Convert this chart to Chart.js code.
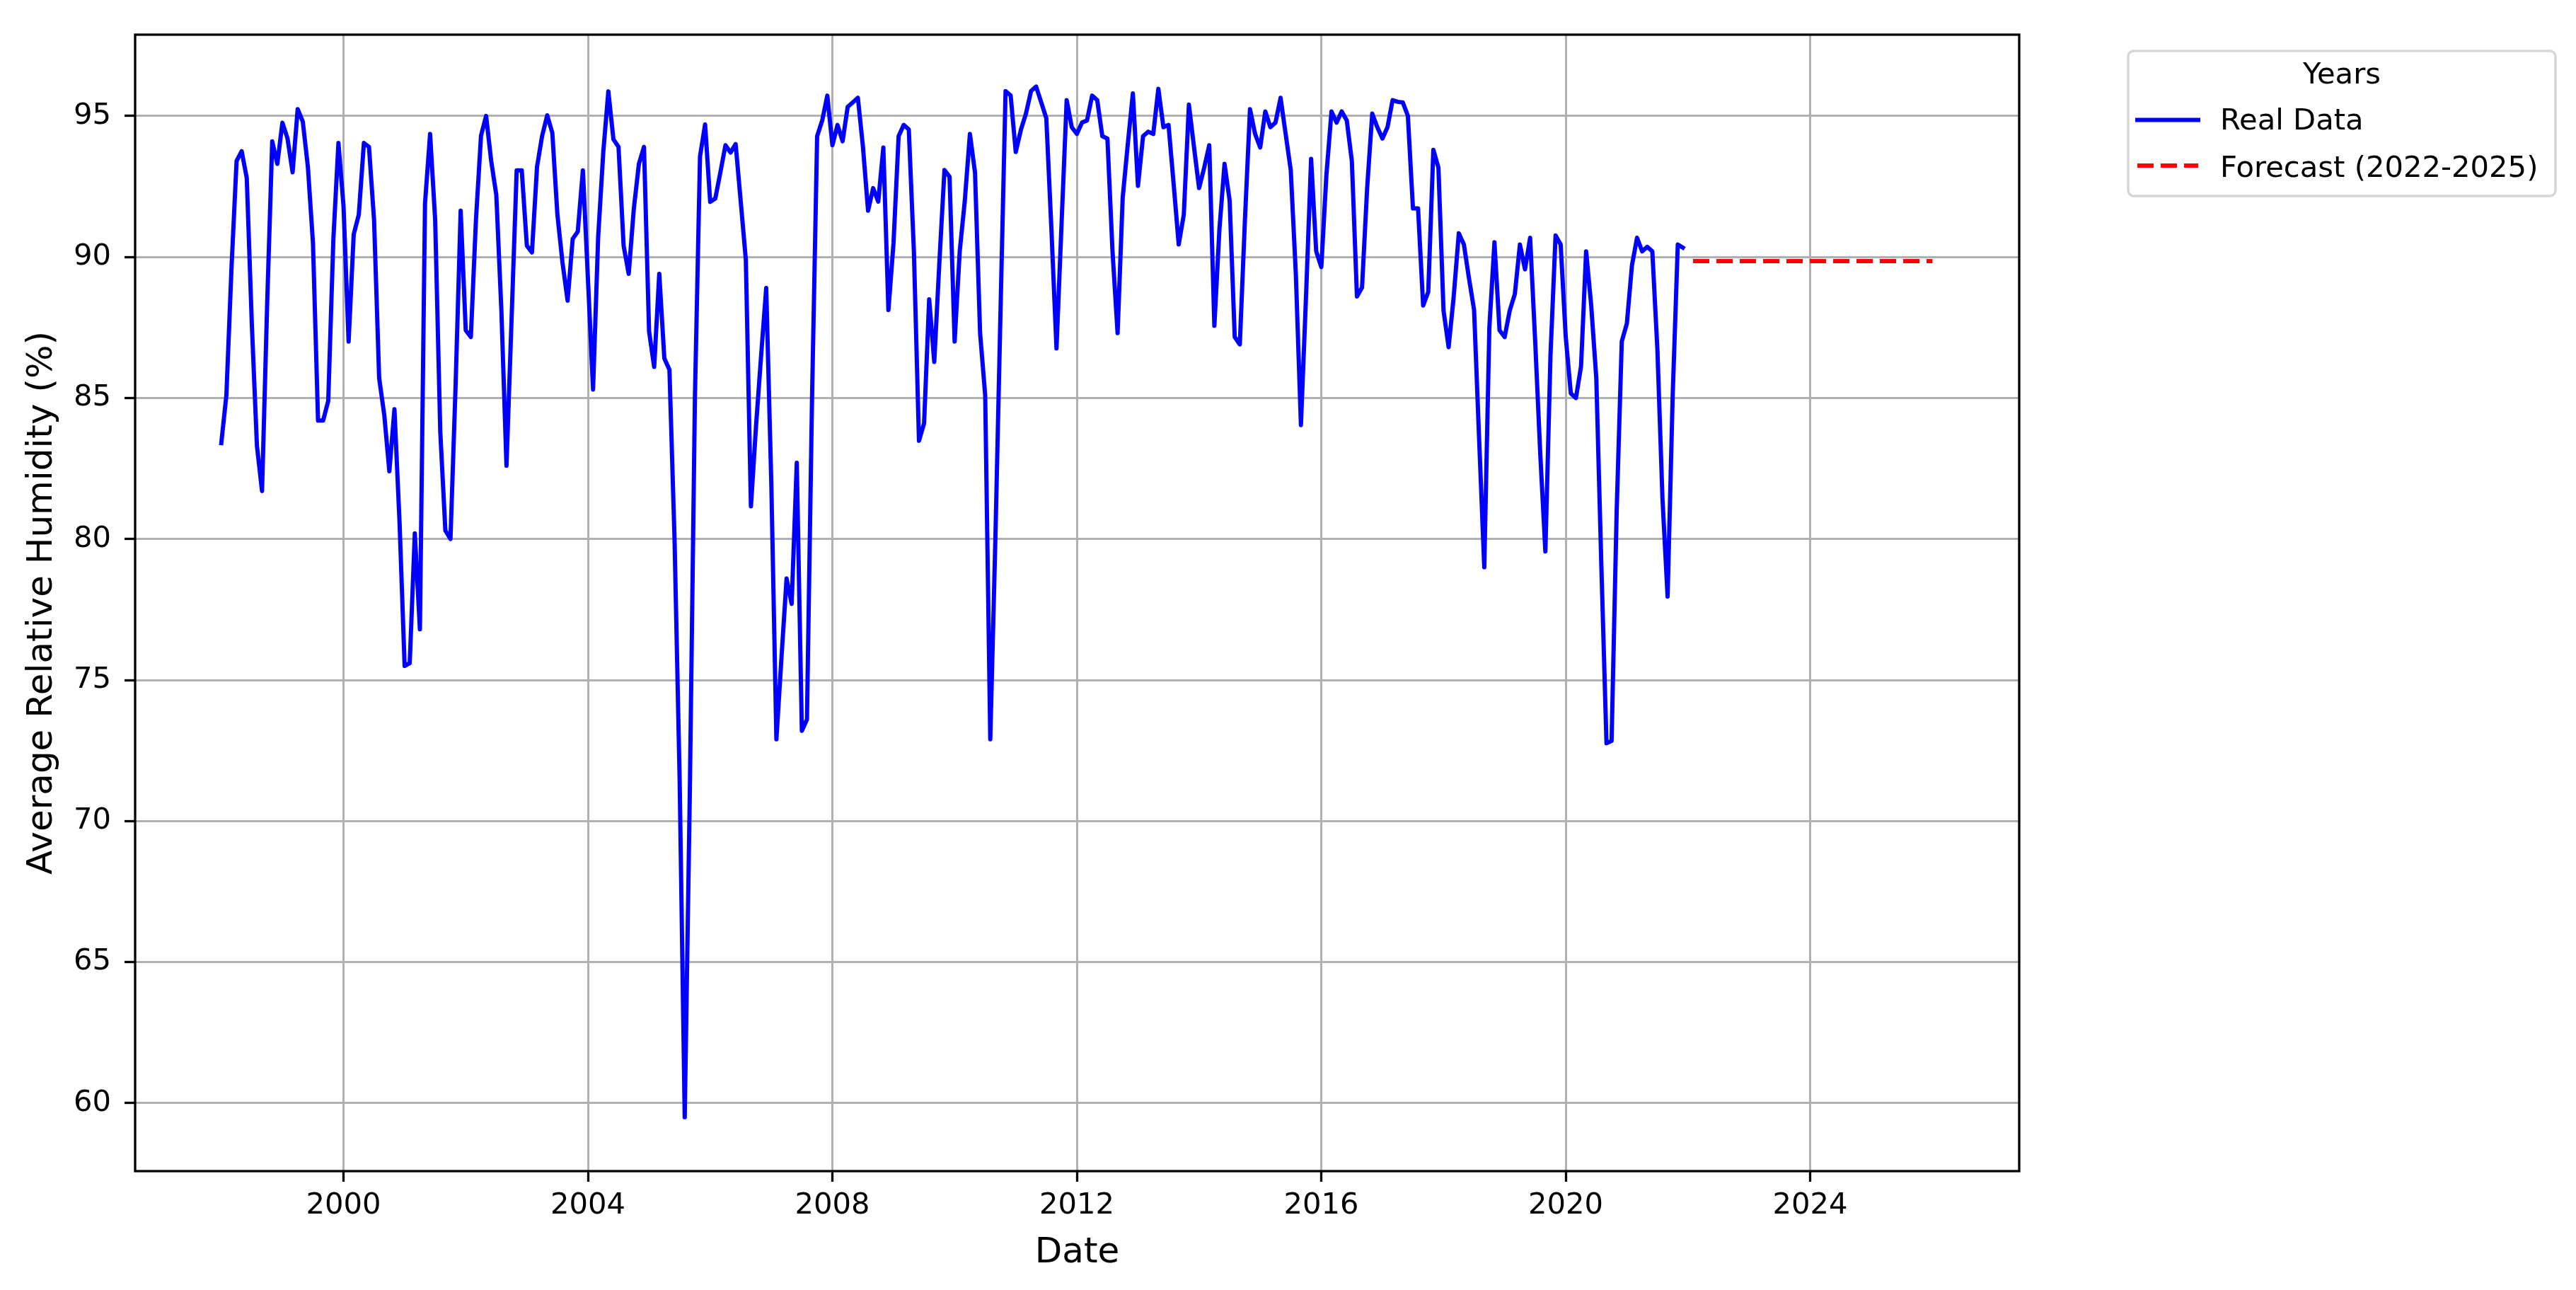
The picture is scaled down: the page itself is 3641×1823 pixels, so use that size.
<!DOCTYPE html>
<html>
<head>
<meta charset="utf-8">
<title>Average Relative Humidity</title>
<script src="https://cdn.jsdelivr.net/npm/chart.js@4.4.1/dist/chart.umd.min.js"></script>
<style>
    html, body { margin: 0; padding: 0; background: #fff; }
    #chartHumidity { display: block; }
</style>
</head>
<body>
<canvas id="chartHumidity" width="3641" height="1823"></canvas>
<script>
// monthly values, first one is Jan 1998
const realStartYear = 1998;
const realHumidity = [
    83.4, 85.1, 89.6, 93.4, 93.75, 92.8, 87.6, 83.3, 81.7, 88.3, 94.1, 93.3,        // 1998
    94.76, 94.2, 93.0, 95.24, 94.8, 93.2, 90.5, 84.2, 84.2, 84.9, 90.6, 94.04,      // 1999
    91.8, 87.0, 90.8, 91.5, 94.04, 93.9, 91.3, 85.7, 84.4, 82.4, 84.6, 80.6,        // 2000
    75.5, 75.6, 80.2, 76.8, 91.9, 94.36, 91.3, 83.8, 80.3, 80.0, 85.4, 91.64,       // 2001
    87.4, 87.16, 91.3, 94.3, 95.0, 93.4, 92.2, 88.1, 82.6, 87.8, 93.07, 93.07,      // 2002
    90.4, 90.16, 93.2, 94.29, 95.02, 94.4, 91.5, 89.8, 88.45, 90.64, 90.9, 93.07,   // 2003
    89.2, 85.3, 90.7, 93.7, 95.87, 94.17, 93.9, 90.4, 89.4, 91.7, 93.3, 93.9,       // 2004
    87.36, 86.1, 89.4, 86.4, 86.0, 80.0, 71.5, 59.5, 71.0, 85.0, 93.56, 94.7,      // 2005
    91.95, 92.07, 93.0, 93.96, 93.7, 94.0, 91.96, 89.9, 81.16, 84.0, 86.5, 88.9,    // 2006
    82.0, 72.9, 75.8, 78.6, 77.7, 82.7, 73.2, 73.6, 85.0, 94.28, 94.84, 95.72,      // 2007
    93.96, 94.68, 94.1, 95.32, 95.48, 95.64, 93.9, 91.64, 92.44, 91.96, 93.88, 88.12, // 2008
    90.5, 94.28, 94.68, 94.52, 90.2, 83.48, 84.1, 88.5, 86.28, 89.8, 93.08, 92.84,  // 2009
    87.0, 90.2, 92.0, 94.36, 93.0, 87.3, 85.1, 72.9, 80.0, 88.0, 95.88, 95.72,      // 2010
    93.72, 94.5, 95.08, 95.88, 96.04, 95.48, 94.92, 91.0, 86.76, 91.2, 95.56, 94.6, // 2011
    94.36, 94.76, 94.84, 95.72, 95.56, 94.28, 94.2, 90.2, 87.3, 92.1, 94.0, 95.8,   // 2012
    92.52, 94.28, 94.44, 94.36, 95.96, 94.6, 94.68, 92.6, 90.44, 91.5, 95.4, 93.9,  // 2013
    92.44, 93.16, 93.96, 87.56, 91.0, 93.3, 92.0, 87.16, 86.9, 91.3, 95.24, 94.36,  // 2014
    93.88, 95.16, 94.6, 94.76, 95.64, 94.36, 93.08, 89.4, 84.04, 88.6, 93.48, 90.2, // 2015
    89.64, 92.9, 95.16, 94.76, 95.16, 94.84, 93.4, 88.6, 88.92, 92.44, 95.08, 94.6, // 2016
    94.2, 94.6, 95.56, 95.5, 95.48, 95.0, 91.72, 91.72, 88.28, 88.76, 93.8, 93.16,  // 2017
    88.1, 86.8, 88.6, 90.84, 90.44, 89.24, 88.12, 83.5, 79.0, 87.5, 90.52, 87.4,    // 2018
    87.16, 88.1, 88.68, 90.44, 89.56, 90.68, 87.0, 83.0, 79.56, 86.5, 90.76, 90.44, // 2019
    87.16, 85.16, 85.0, 86.12, 90.2, 88.28, 85.7, 79.0, 72.76, 72.84, 81.0, 87.0,   // 2020
    87.64, 89.7, 90.68, 90.2, 90.36, 90.2, 86.7, 81.4, 77.96, 85.1, 90.44, 90.33    // 2021
];

// forecast, first value is Feb 2022
const forecastStartYear = 2022;
const forecastStartMonth = 1;
const forecastHumidity = [
    89.85, 89.85, 89.85, 89.85, 89.85, 89.85, 89.85, 89.85, 89.85, 89.85, 89.85, 89.85,
    89.85, 89.85, 89.85, 89.85, 89.85, 89.85, 89.85, 89.85, 89.85, 89.85, 89.85, 89.85,
    89.85, 89.85, 89.85, 89.85, 89.85, 89.85, 89.85, 89.85, 89.85, 89.85, 89.85, 89.85,
    89.85, 89.85, 89.85, 89.85, 89.85, 89.85, 89.85, 89.85, 89.85, 89.85, 89.85, 89.85
];

const yearTicks = [2000, 2004, 2008, 2012, 2016, 2020, 2024];
const humidityTicks = [60, 65, 70, 75, 80, 85, 90, 95];

const legendTitle = 'Years';
const seriesNames = ['Real Data', 'Forecast (2022-2025)'];

let realPoints = realHumidity.map((v, i) => ({ x: realStartYear + i / 12, y: v }));
let forecastPoints = forecastHumidity.map((v, i) => ({ x: forecastStartYear + (forecastStartMonth + i) / 12, y: v }));

const fontName = "'DejaVu Sans', 'Liberation Sans', sans-serif";
Chart.defaults.font.family = fontName;
Chart.defaults.color = '#000';

// box round the plot, like matplotlib spines
const frame = {
    id: 'frame',
    afterDatasetsDraw(chart) {
        let { ctx, chartArea } = chart;
        ctx.save();
        ctx.strokeStyle = '#000';
        ctx.lineWidth = 3.3;
        ctx.strokeRect(chartArea.left, chartArea.top, chartArea.right - chartArea.left, chartArea.bottom - chartArea.top);
        ctx.restore();
    }
};

// legend outside the axes, top right
const legendBox = {
    id: 'legendBox',
    afterDraw(chart) {
        let ctx = chart.ctx;
        ctx.save();
        ctx.beginPath();
        ctx.roundRect(3008, 72, 604, 205, 8);
        ctx.fillStyle = 'rgba(255,255,255,0.8)';
        ctx.fill();
        ctx.strokeStyle = '#d6d6d6';
        ctx.lineWidth = 3.5;
        ctx.stroke();

        ctx.font = `41.7px ${fontName}`;
        ctx.fillStyle = '#000';
        ctx.textBaseline = 'alphabetic';
        ctx.textAlign = 'center';
        ctx.fillText(legendTitle, 3310, 118);

        ctx.textAlign = 'left';
        ctx.fillText(seriesNames[0], 3138, 183);
        ctx.fillText(seriesNames[1], 3138, 250);

        ctx.lineWidth = 6;
        ctx.strokeStyle = '#0000ff';
        ctx.lineCap = 'square';
        ctx.beginPath();
        ctx.moveTo(3021, 169.5);
        ctx.lineTo(3107, 169.5);
        ctx.stroke();

        ctx.strokeStyle = '#ff0000';
        ctx.lineCap = 'butt';
        ctx.setLineDash([23, 10]);
        ctx.beginPath();
        ctx.moveTo(3021, 234);
        ctx.lineTo(3107, 234);
        ctx.stroke();
        ctx.restore();
    }
};

const ctx = document.getElementById('chartHumidity');

new Chart(ctx, {
    type: 'line',
    data: {
        datasets: [{
            label: seriesNames[0],
            data: realPoints,
            borderColor: '#0000ff',
            borderWidth: 6,
            borderCapStyle: 'square',
            borderJoinStyle: 'round',
            pointRadius: 0,
            tension: 0,
            fill: false
        }, {
            label: seriesNames[1],
            data: forecastPoints,
            borderColor: '#ff0000',
            borderWidth: 6,
            borderDash: [23, 10],
            pointRadius: 0,
            tension: 0,
            fill: false
        }]
    },
    options: {
        responsive: false,
        devicePixelRatio: 1,
        animation: false,
        layout: {
            padding: { top: 49, right: 787, bottom: 0, left: 0 }
        },
        plugins: {
            legend: { display: false },
            tooltip: { enabled: false }
        },
        scales: {
            x: {
                type: 'linear',
                min: 1996.59,
                max: 2027.42,
                afterFit: (scale) => { scale.height = 168; },
                afterBuildTicks: (scale) => { scale.ticks = yearTicks.map(v => ({ value: v })); },
                ticks: {
                    font: { size: 41.7 },
                    padding: 9,
                    maxRotation: 0,
                    autoSkip: false,
                    callback: (value) => String(value)
                },
                grid: {
                    color: '#b0b0b0',
                    lineWidth: 3,
                    tickColor: '#000',
                    tickLength: 15,
                    tickWidth: 3.3
                },
                border: { display: false },
                title: {
                    display: true,
                    text: 'Date',
                    font: { size: 50 },
                    padding: { top: 0, bottom: 22 }
                }
            },
            y: {
                min: 57.59,
                max: 97.88,
                afterFit: (scale) => { scale.width = 191; },
                afterBuildTicks: (scale) => { scale.ticks = humidityTicks.map(v => ({ value: v })); },
                ticks: {
                    font: { size: 41.7 },
                    padding: 19,
                    autoSkip: false,
                    callback: (value) => String(value)
                },
                grid: {
                    color: '#b0b0b0',
                    lineWidth: 3,
                    tickColor: '#000',
                    tickLength: 15,
                    tickWidth: 3.3
                },
                border: { display: false },
                title: {
                    display: true,
                    text: 'Average Relative Humidity (%)',
                    font: { size: 50 },
                    padding: { top: 30, bottom: 0 }
                }
            }
        }
    },
    plugins: [frame, legendBox]
});
</script>
</body>
</html>
